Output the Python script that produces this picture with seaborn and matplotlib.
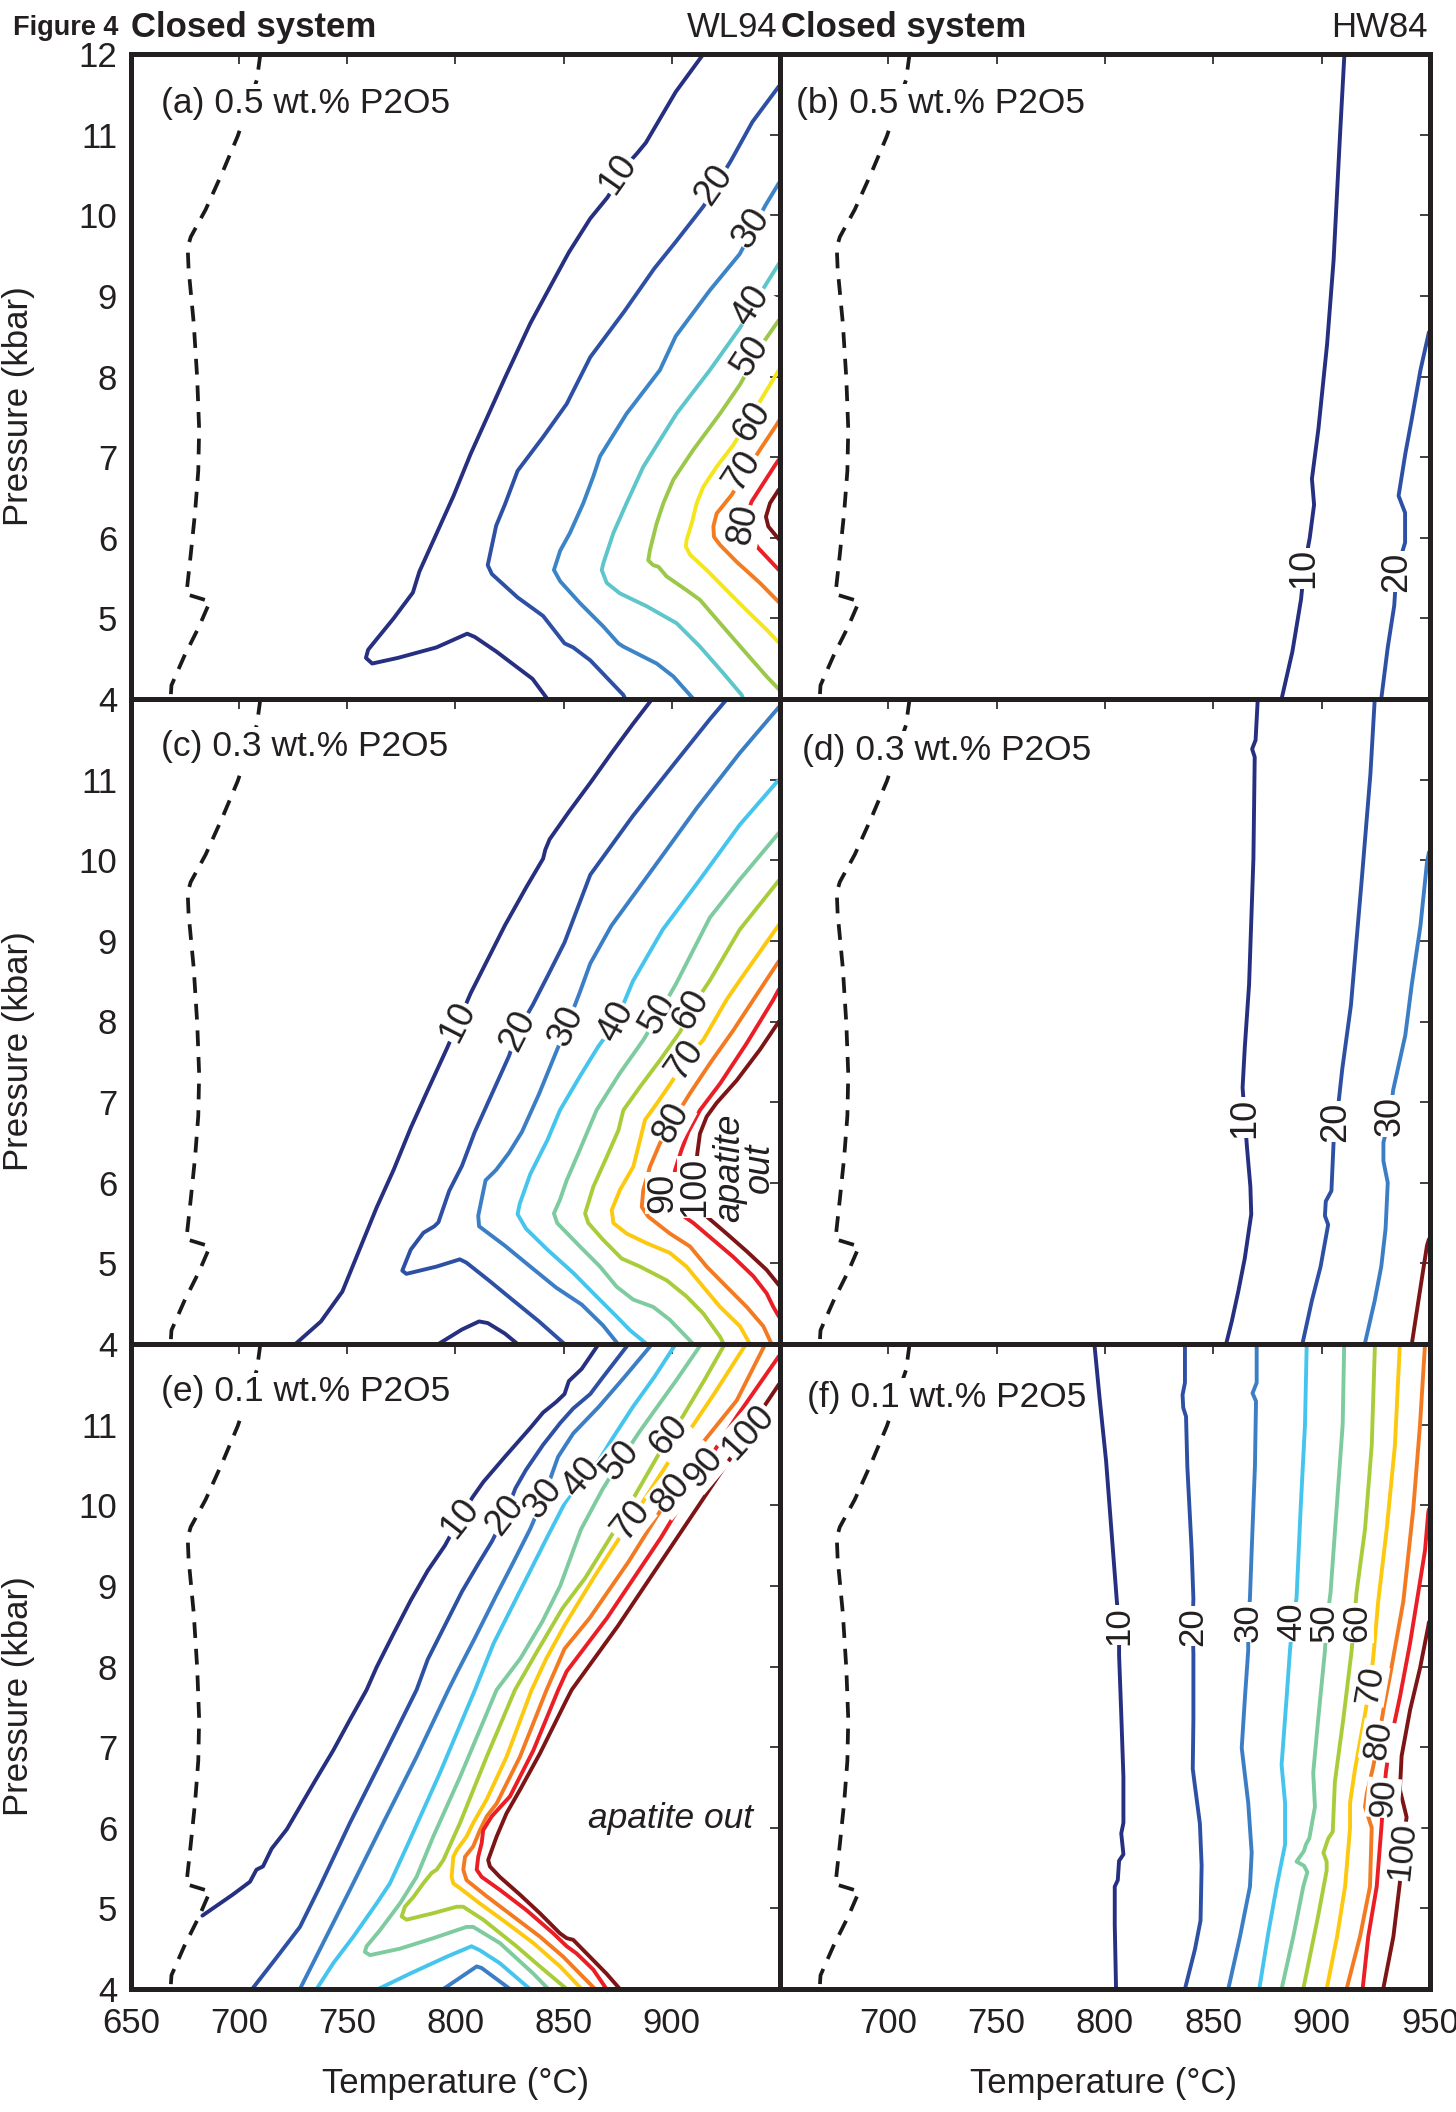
import numpy as np
import pandas as pd
import matplotlib
matplotlib.use("Agg")
import matplotlib.pyplot as plt
import seaborn as sns

# ---------------- data ----------------
# dashed line (same in every panel): (T degC, P kbar)
SOLIDUS = [(709.8, 12.0), (708.2, 11.68), (699.3, 10.98), (692.4, 10.54), (684.5, 10.07),
           (677.6, 9.73), (676.2, 9.60), (676.6, 9.34), (679.0, 8.66), (680.6, 7.98),
           (681.5, 7.35), (681.1, 6.83), (679.6, 6.31), (677.6, 5.79), (675.6, 5.30),
           (686.5, 5.21), (681.5, 4.90), (674.6, 4.53), (668.7, 4.17), (668.3, 4.0)]

# ---- panel (a) WL94 0.5 wt.% ----
A10 = [(914.6, 12.0), (901.8, 11.53), (888.0, 10.90), (884.0, 10.77), (881.0, 10.68), (870.2, 10.22),
       (862.3, 9.96), (852.4, 9.54), (845.5, 9.20), (834.6, 8.66), (822.8, 7.98), (814.9, 7.51),
       (807.0, 7.04), (799.1, 6.52), (791.2, 6.05), (783.3, 5.58), (780.3, 5.32), (771.4, 5.00),
       (763.5, 4.74), (759.6, 4.61), (758.6, 4.51), (761.5, 4.44), (773.4, 4.51), (791.2, 4.64),
       (805.4, 4.81), (808.9, 4.77), (818.8, 4.59), (826.7, 4.43), (835.6, 4.25), (842.5, 4.0)]
A20 = [(949.5, 11.6), (937.3, 11.16), (927.4, 10.68), (914.6, 10.11), (901.8, 9.67), (891.9, 9.34),
       (878.1, 8.81), (862.3, 8.24), (851.4, 7.66), (840.5, 7.25), (828.7, 6.83), (822.8, 6.41),
       (818.8, 6.15), (814.9, 5.66), (816.8, 5.55), (828.7, 5.26), (840.5, 5.03), (850.4, 4.69),
       (854.4, 4.64), (862.3, 4.48), (877.6, 4.05), (878.5, 4.0)]
A30 = [(949.5, 10.4), (943.2, 10.12), (931.4, 9.52), (917.6, 9.07), (901.8, 8.50), (894.5, 8.08),
       (879.1, 7.54), (866.8, 7.01), (863.7, 6.76), (859.1, 6.43), (852.9, 6.06), (848.4, 5.84),
       (845.5, 5.60), (848.4, 5.46), (857.5, 5.19), (868.3, 4.90), (875.3, 4.69), (877.6, 4.65),
       (893.0, 4.44), (900.7, 4.28), (910.0, 4.0)]
A40 = [(949.5, 9.4), (943.2, 9.13), (931.4, 8.60), (917.6, 8.08), (902.2, 7.54), (886.8, 6.88),
       (879.1, 6.43), (873.0, 6.06), (868.3, 5.68), (867.6, 5.60), (869.9, 5.44), (876.0, 5.31),
       (888.4, 5.15), (902.2, 4.94), (913.0, 4.65), (923.8, 4.32), (932.3, 4.05), (933.0, 4.0)]
A50 = [(949.5, 8.70), (943.0, 8.45), (931.5, 7.90), (922.3, 7.54), (909.9, 7.09), (900.7, 6.72),
       (896.1, 6.43), (893.0, 6.18), (889.9, 5.85), (889.1, 5.72), (891.4, 5.66), (893.8, 5.64),
       (897.6, 5.52), (906.8, 5.35), (913.0, 5.23), (922.3, 4.94), (933.0, 4.61), (943.8, 4.28),
       (949.5, 4.12)]
A60 = [(949.5, 8.08), (947.7, 8.0), (940.7, 7.69), (928.4, 7.15), (920.7, 6.88), (914.5, 6.63),
       (911.5, 6.43), (909.2, 6.18), (906.8, 5.97), (906.5, 5.89), (908.4, 5.79), (916.1, 5.60),
       (925.3, 5.35), (934.6, 5.10), (943.8, 4.86), (949.5, 4.70)]
A70 = [(949.5, 7.45), (948.4, 7.40), (940.7, 7.09), (927.6, 6.53), (920.7, 6.30), (919.2, 6.14),
       (919.5, 6.01), (922.3, 5.91), (930.0, 5.70), (940.7, 5.44), (949.5, 5.20)]
A80 = [(949.5, 6.97), (947.7, 6.90), (936.9, 6.45), (933.0, 6.16), (940.0, 5.87), (949.5, 5.60)]
A90 = [(949.5, 6.60), (945.4, 6.43), (943.5, 6.26), (944.6, 6.14), (949.5, 5.98)]
A_LABELS = [("10", 875.1, 10.51), ("20", 919.5, 10.38), ("30", 936.9, 9.84), ("40", 936.8, 8.88),
            ("50", 936.5, 8.25), ("60", 936.9, 7.43), ("70", 932.4, 6.83), ("80", 933.0, 6.16)]

# ---- panel (b) HW84 0.5 wt.% ----
B10 = [(910.5, 12.0), (908.5, 11.01), (905.5, 9.44), (902.5, 8.40), (898.5, 7.35), (895.5, 6.73),
       (896.5, 6.41), (894.5, 6.0), (891.9, 5.62), (890.5, 5.24), (886.5, 4.59), (881.5, 4.0)]
B20 = [(949.5, 8.55), (945.6, 8.08), (941.5, 7.46), (938.6, 7.04), (935.5, 6.52), (938.5, 6.31),
       (938.5, 5.94), (934.5, 5.58), (933.5, 5.16), (930.5, 4.64), (927.5, 4.0)]
B_LABELS = [("10", 891.9, 5.62), ("20", 934.5, 5.58)]

# ---- panel (c) WL94 0.3 wt.% ----
C10 = [(890.9, 12.0), (882.0, 11.69), (872.1, 11.33), (862.3, 10.96), (852.4, 10.60), (843.5, 10.26),
       (841.5, 10.13), (840.5, 10.02), (832.6, 9.66), (822.8, 9.19), (814.9, 8.77), (807.0, 8.35),
       (796.1, 7.67), (787.2, 7.15), (779.3, 6.68), (771.4, 6.16), (763.5, 5.69), (755.6, 5.17),
       (747.7, 4.65), (737.8, 4.28), (726.0, 4.0)]
C10_TENT = [(792.1, 4.0), (803.0, 4.18), (810.9, 4.28), (814.9, 4.26), (822.8, 4.13), (828.7, 4.0)]
C20 = [(925.5, 12.0), (917.6, 11.75), (901.8, 11.22), (882.0, 10.55), (862.3, 9.82), (850.4, 8.98),
       (842.5, 8.56), (835.6, 8.2), (828.7, 7.88), (824.7, 7.57), (816.8, 7.10), (808.9, 6.63),
       (803.0, 6.21), (797.1, 5.90), (792.1, 5.51), (790.2, 5.46), (785.2, 5.38), (779.3, 5.17),
       (775.4, 4.91), (777.3, 4.87), (791.2, 4.96), (802.0, 5.05), (805.0, 5.01), (814.9, 4.80),
       (826.7, 4.54), (838.6, 4.28), (850.4, 4.0)]
C30 = [(949.5, 11.9), (931.4, 11.33), (911.6, 10.65), (891.9, 9.92), (872.1, 9.19), (862.3, 8.72),
       (857.3, 8.35), (851.4, 7.94), (846.5, 7.62), (838.6, 7.10), (830.7, 6.63), (824.7, 6.37),
       (818.8, 6.16), (813.9, 6.03), (812.5, 5.85), (810.5, 5.59), (810.9, 5.46), (822.8, 5.22),
       (834.6, 4.96), (846.5, 4.70), (858.3, 4.49), (868.2, 4.23), (875.1, 4.0)]
C40 = [(949.5, 11.0), (931.4, 10.44), (911.6, 9.71), (895.8, 9.14), (882.0, 8.5), (874.1, 7.99),
       (866.0, 7.69), (857.5, 7.32), (848.3, 6.90), (842.5, 6.53), (834.6, 6.11), (829.7, 5.74),
       (828.7, 5.61), (832.6, 5.43), (842.5, 5.17), (854.5, 4.88), (863.7, 4.63), (874.5, 4.34),
       (880.7, 4.17), (888.4, 4.0)]
C50 = [(949.5, 10.34), (931.4, 9.76), (917.6, 9.29), (901.8, 8.46), (893.9, 8.09), (886.8, 7.77),
       (876.0, 7.36), (865.2, 6.90), (857.5, 6.41), (851.4, 6.03), (848.3, 5.79), (845.5, 5.62),
       (847.0, 5.50), (857.5, 5.21), (866.8, 4.96), (874.5, 4.71), (882.2, 4.55), (891.4, 4.46),
       (899.1, 4.30), (909.9, 4.0)]
C60 = [(949.5, 9.75), (931.4, 9.14), (917.6, 8.51), (908.7, 8.15), (903.8, 7.87), (894.5, 7.52),
       (885.3, 7.19), (877.6, 6.90), (875.3, 6.65), (869.9, 6.32), (863.7, 5.95), (859.9, 5.62),
       (861.4, 5.50), (868.3, 5.29), (876.8, 5.06), (885.3, 4.96), (897.6, 4.79), (906.8, 4.59),
       (914.5, 4.38), (922.3, 4.09), (924.0, 4.0)]
C70 = [(949.5, 9.2), (931.4, 8.51), (925.3, 8.27), (914.5, 7.77), (906.1, 7.52), (899.9, 7.25),
       (893.0, 6.98), (887.6, 6.78), (885.3, 6.53), (882.2, 6.20), (876.0, 5.91), (872.2, 5.66),
       (873.0, 5.50), (879.1, 5.37), (888.4, 5.25), (899.1, 5.13), (906.8, 4.96), (914.5, 4.71),
       (922.3, 4.46), (931.5, 4.22), (936.1, 4.0)]
C80 = [(949.5, 8.75), (937.7, 8.27), (928.4, 7.89), (917.6, 7.48), (908.4, 7.11), (899.9, 6.74),
       (894.5, 6.49), (889.9, 6.20), (886.8, 5.91), (886.1, 5.70), (889.1, 5.58), (899.1, 5.37),
       (908.4, 5.21), (916.1, 4.96), (925.3, 4.71), (934.6, 4.46), (942.3, 4.22), (946.1, 4.0)]
C90 = [(949.5, 8.40), (946.9, 8.27), (934.6, 7.73), (922.3, 7.23), (913.0, 6.90), (907.6, 6.63),
       (904.5, 6.41), (901.5, 6.16), (900.0, 5.88), (901.5, 5.66), (910.0, 5.50), (919.2, 5.29),
       (928.4, 5.08), (937.7, 4.84), (943.8, 4.63), (946.9, 4.46), (949.5, 4.34)]
C100 = [(949.5, 8.0), (940.7, 7.65), (930.0, 7.27), (920.7, 6.99), (916.1, 6.82), (913.0, 6.61),
        (911.8, 6.37), (910.5, 5.95), (915.3, 5.60), (925.3, 5.37), (934.6, 5.15), (943.8, 4.92),
        (949.5, 4.73)]
C_LABELS = [("10", 801.0, 7.99), ("20", 828.7, 7.88), ("30", 851.4, 7.94), ("40", 874.1, 7.99),
            ("50", 893.9, 8.09), ("60", 908.7, 8.15), ("70", 906.1, 7.52), ("80", 899.9, 6.74),
            ("90", 896.0, 5.87), ("100", 910.6, 5.95)]

# ---- panel (d) HW84 0.3 wt.% ----
D10 = [(870.5, 12.0), (869.5, 11.49), (867.9, 11.38), (869.1, 11.28), (868.5, 10.02), (866.5, 8.46),
       (864.5, 7.67), (863.5, 7.18), (864.5, 6.81), (865.5, 6.45), (867.1, 5.95), (867.5, 5.61),
       (864.5, 5.06), (861.5, 4.65), (858.5, 4.28), (855.9, 4.0)]
D20 = [(924.5, 12.0), (922.5, 11.07), (918.5, 9.76), (913.5, 8.20), (909.5, 7.41), (907.9, 7.02),
       (906.5, 6.76), (905.5, 6.50), (904.5, 5.90), (901.9, 5.77), (901.5, 5.59), (903.0, 5.48),
       (899.5, 4.96), (895.5, 4.54), (891.1, 4.0)]
D30 = [(949.5, 10.1), (948.6, 9.97), (945.6, 9.19), (941.6, 8.46), (938.6, 7.83), (933.0, 7.15),
       (931.6, 6.83), (928.5, 6.50), (928.5, 6.27), (930.5, 6.0), (929.5, 5.43), (927.5, 4.96),
       (924.5, 4.54), (919.9, 4.0)]
D100 = [(949.5, 5.3), (948.6, 5.22), (945.6, 4.70), (941.6, 4.0)]
D_LABELS = [("10", 864.5, 6.81), ("20", 906.5, 6.76), ("30", 931.6, 6.83)]

# ---- panel (e) WL94 0.1 wt.% ----
E10 = [(866.2, 12.0), (858.3, 11.69), (852.4, 11.54), (850.4, 11.38), (846.5, 11.28), (840.5, 11.15),
       (834.6, 10.96), (822.8, 10.60), (812.9, 10.29), (807.9, 10.10), (802.0, 9.84), (795.1, 9.50),
       (787.2, 9.19), (779.3, 8.82), (771.4, 8.41), (763.5, 7.99), (758.9, 7.71), (751.0, 7.33),
       (743.5, 6.96), (735.5, 6.60), (728.1, 6.26), (722.0, 5.98), (715.0, 5.74), (711.0, 5.52),
       (708.0, 5.48), (705.0, 5.33), (697.0, 5.17), (683.0, 4.91)]
E20 = [(880.0, 12.0), (868.2, 11.59), (862.3, 11.38), (854.4, 11.20), (848.4, 11.02), (840.5, 10.75),
       (832.6, 10.44), (827.7, 10.21), (822.8, 9.87), (816.8, 9.55), (810.9, 9.29), (803.0, 8.93),
       (795.1, 8.51), (787.2, 8.09), (782.0, 7.71), (766.6, 6.88), (751.2, 6.06), (737.3, 5.27),
       (728.1, 4.77), (717.0, 4.38), (706.0, 4.0)]
E30 = [(890.9, 12.0), (878.1, 11.59), (866.2, 11.22), (854.4, 10.89), (847.4, 10.60), (840.5, 10.08),
       (834.6, 9.71), (826.7, 9.29), (818.8, 8.88), (808.9, 8.35), (801.0, 7.94), (796.7, 7.71),
       (782.0, 6.88), (766.6, 6.06), (751.2, 5.23), (737.3, 4.49), (728.1, 4.0)]
E30_TENT = [(794.4, 4.0), (809.8, 4.28), (812.1, 4.26), (825.2, 4.0)]
E40 = [(901.8, 12.0), (891.9, 11.59), (882.0, 11.22), (872.1, 10.81), (866.2, 10.55), (858.3, 10.34),
       (850.4, 10.02), (842.5, 9.61), (834.6, 9.19), (826.7, 8.77), (817.5, 8.28), (809.0, 7.71),
       (792.8, 6.68), (778.9, 5.85), (769.7, 5.31), (763.5, 5.06), (752.8, 4.65), (743.5, 4.32),
       (735.8, 4.0)]
E40_TENT = [(764.3, 4.0), (778.9, 4.19), (795.9, 4.40), (807.4, 4.53), (811.3, 4.48), (820.5, 4.32),
            (834.4, 4.0)]
E50 = [(913.6, 12.0), (901.8, 11.54), (891.9, 11.17), (885.0, 10.91), (876.1, 10.55), (868.0, 10.2),
       (858.0, 9.7), (848.4, 9.0), (840.0, 8.55), (830.0, 8.1), (819.0, 7.71), (802.1, 6.63),
       (789.7, 5.89), (782.0, 5.39), (774.3, 5.06), (765.1, 4.73), (758.9, 4.53), (758.1, 4.46),
       (760.5, 4.42), (774.3, 4.50), (789.7, 4.63), (805.1, 4.77), (808.2, 4.77), (820.5, 4.57),
       (836.0, 4.19), (842.9, 4.0)]
E60 = [(924.5, 12.0), (915.0, 11.55), (905.0, 11.1), (898.8, 10.86), (890.0, 10.45), (875.0, 9.75),
       (860.0, 9.1), (849.4, 8.72), (838.0, 8.2), (827.5, 7.71), (814.4, 6.88), (802.1, 6.06),
       (794.4, 5.60), (791.3, 5.48), (789.0, 5.44), (785.1, 5.31), (780.5, 5.14), (776.6, 5.02),
       (775.1, 4.90), (777.4, 4.86), (789.7, 4.94), (800.5, 5.02), (803.6, 5.02), (812.8, 4.86),
       (828.2, 4.53), (839.0, 4.28), (851.4, 4.0)]
E70 = [(934.3, 12.0), (920.0, 11.4), (900.0, 10.6), (881.0, 9.81), (865.0, 9.15), (850.4, 8.51),
       (842.0, 8.1), (835.2, 7.71), (823.6, 6.88), (814.4, 6.35), (808.2, 6.06), (805.1, 5.89),
       (800.5, 5.72), (799.0, 5.64), (798.2, 5.39), (799.0, 5.31), (802.1, 5.25), (811.3, 5.06),
       (823.6, 4.82), (836.0, 4.57), (848.3, 4.28), (858.3, 4.0)]
E80 = [(943.2, 12.0), (930.0, 11.3), (915.0, 10.8), (899.8, 10.15), (880.0, 9.3), (862.0, 8.6),
       (850.4, 8.22), (842.1, 7.71), (829.8, 6.88), (819.0, 6.30), (814.4, 6.14), (811.3, 5.97),
       (808.2, 5.77), (804.4, 5.64), (803.6, 5.48), (805.1, 5.35), (814.4, 5.15), (826.7, 4.90),
       (839.0, 4.65), (849.8, 4.40), (857.5, 4.19), (864.5, 4.0)]
E90 = [(949.5, 11.85), (930.0, 11.1), (914.6, 10.47), (895.0, 9.6), (870.0, 8.6), (851.4, 7.94),
       (847.5, 7.71), (836.0, 6.96), (825.2, 6.39), (816.7, 6.14), (812.8, 5.97), (812.1, 5.81),
       (810.5, 5.64), (809.8, 5.48), (812.1, 5.39), (820.5, 5.23), (832.7, 4.98), (845.2, 4.69),
       (851.4, 4.53), (856.0, 4.44), (863.7, 4.24), (869.8, 4.0)]
E100 = [(949.5, 11.5), (942.0, 11.2), (935.3, 10.91), (925.0, 10.5), (900.0, 9.5), (875.0, 8.5),
        (853.7, 7.71), (851.4, 7.59), (839.0, 6.92), (829.8, 6.47), (823.6, 6.18), (819.0, 5.89),
        (815.1, 5.60), (815.9, 5.52), (820.5, 5.39), (829.8, 5.17), (839.0, 4.94), (848.3, 4.69),
        (851.4, 4.63), (854.4, 4.61), (862.1, 4.40), (869.8, 4.19), (876.0, 4.0)]
E_LABELS = [("10", 802.0, 9.84), ("20", 822.8, 9.87), ("30", 840.5, 10.08), ("40", 858.3, 10.34),
            ("50", 876.1, 10.55), ("60", 898.8, 10.86), ("70", 881.0, 9.81), ("80", 899.8, 10.15),
            ("90", 914.6, 10.47), ("100", 935.3, 10.91)]

# ---- panel (f) HW84 0.1 wt.% ----
F10 = [(795.1, 12.0), (797.5, 11.33), (800.5, 10.55), (803.5, 9.50), (805.5, 8.80), (806.5, 8.51),
       (806.5, 8.14), (807.5, 7.41), (808.5, 6.63), (808.5, 6.06), (807.5, 5.93), (808.5, 5.67),
       (806.5, 5.59), (805.9, 5.35), (804.5, 5.27), (804.5, 4.80), (805.1, 4.0)]
F20 = [(836.9, 12.0), (836.9, 11.52), (835.8, 11.37), (836.1, 11.21), (837.4, 11.10), (838.0, 10.48),
       (840.0, 9.44), (840.8, 8.84), (840.4, 8.50), (840.8, 8.16), (840.8, 7.35), (840.5, 6.73),
       (841.5, 6.52), (843.8, 6.05), (844.6, 5.53), (844.1, 4.85), (841.5, 4.49), (840.0, 4.33),
       (836.9, 4.0)]
F30 = [(870.0, 12.0), (870.0, 11.52), (868.1, 11.39), (869.7, 11.29), (869.2, 10.48), (867.7, 9.44),
       (866.9, 8.85), (866.1, 8.55), (866.1, 8.2), (864.6, 7.62), (863.1, 6.99), (863.8, 6.83),
       (866.1, 6.31), (867.7, 5.69), (866.9, 5.27), (862.3, 4.65), (856.9, 4.0)]
F40 = [(893.1, 12.0), (892.3, 11.0), (890.3, 9.96), (888.4, 8.85), (886.6, 8.55), (885.4, 8.21),
       (883.8, 7.61), (881.5, 6.78), (883.1, 6.31), (883.1, 5.79), (879.2, 5.27), (875.4, 4.70),
       (871.2, 4.0)]
F50 = [(910.4, 12.0), (909.7, 11.0), (906.9, 9.96), (904.1, 8.92), (902.3, 8.54), (901.5, 8.19),
       (898.4, 7.35), (896.1, 6.68), (896.9, 6.26), (894.3, 5.87), (892.7, 5.79), (891.8, 5.71),
       (888.4, 5.58), (891.8, 5.53), (893.4, 5.45), (891.5, 5.27), (886.9, 4.65), (881.5, 4.0)]
F60 = [(924.6, 12.0), (923.1, 10.74), (920.0, 9.70), (916.1, 8.92), (914.9, 8.54), (913.8, 8.19),
       (910.0, 7.35), (906.1, 6.57), (905.1, 5.95), (903.1, 5.87), (900.8, 5.69), (902.3, 5.58),
       (902.3, 5.47), (898.4, 4.91), (891.5, 4.0)]
F70 = [(936.1, 12.0), (933.8, 10.74), (930.0, 9.70), (926.1, 8.81), (923.8, 8.11), (922.3, 7.77),
       (920.0, 7.41), (915.4, 6.73), (913.1, 6.31), (913.1, 6.0), (910.8, 5.27), (907.1, 4.65),
       (902.3, 4.0)]
F80 = [(947.7, 12.0), (945.4, 11.0), (942.3, 9.96), (937.7, 8.81), (931.5, 7.88), (928.8, 7.51),
       (926.1, 7.08), (923.8, 6.76), (920.8, 6.42), (920.0, 6.26), (923.1, 6.0), (922.3, 5.27),
       (917.7, 4.65), (911.5, 4.0)]
F90 = [(949.5, 9.95), (949.2, 9.91), (947.7, 9.44), (944.6, 8.92), (940.8, 8.29), (936.1, 7.62),
       (931.5, 7.04), (929.7, 6.70), (928.5, 6.37), (927.7, 6.05), (925.4, 5.27), (921.5, 4.65),
       (918.9, 4.0)]
F100 = [(949.5, 8.55), (949.2, 8.50), (945.4, 7.98), (940.8, 7.46), (936.9, 6.89), (936.1, 6.47),
        (938.5, 6.21), (939.2, 6.13), (936.9, 5.71), (936.1, 5.32), (933.1, 4.65), (928.4, 4.0)]
F_LABELS = [("10", 806.5, 8.51), ("20", 840.4, 8.50), ("30", 866.1, 8.55), ("40", 886.2, 8.55),
            ("50", 901.2, 8.54), ("60", 916.0, 8.54), ("70", 922.3, 7.77), ("80", 926.1, 7.08),
            ("90", 928.5, 6.37), ("100", 936.9, 5.71)]

PANEL_TITLES = ["(a) 0.5 wt.% P2O5", "(b) 0.5 wt.% P2O5", "(c) 0.3 wt.% P2O5",
                "(d) 0.3 wt.% P2O5", "(e) 0.1 wt.% P2O5", "(f) 0.1 wt.% P2O5"]
X_TICKS = [650, 700, 750, 800, 850, 900, 950]
Y_TICKS = [4, 5, 6, 7, 8, 9, 10, 11, 12]

# ---------------- styles ----------------
PAL_A = {10: "#262f80", 20: "#2e50a4", 30: "#3c84c8", 40: "#5cc6cb", 50: "#9cc84a",
         60: "#f4e51c", 70: "#f47c20", 80: "#ea1f27", 90: "#7c1416"}
PAL = {10: "#262f80", 20: "#2e50a4", 30: "#3b7ec6", 40: "#45c5ee", 50: "#7ecb9f",
       60: "#a9cd3a", 70: "#fcc90f", 80: "#f47a22", 90: "#eb1d25", 100: "#7d1416"}
INK = "#231f20"
LW = 2.8
LABEL_FS = 26
TITLE_POS = [(0.0456, 0.9085), (0.0246, 0.9085), (0.0456, 0.912),
             (0.0346, 0.906), (0.0456, 0.911), (0.0414, 0.903)]

sns.set_theme(style="white")
plt.rcParams["font.family"] = ["Liberation Sans", "DejaVu Sans"]

W, H = 1456, 2112
fig = plt.figure(figsize=(W / 100, H / 100), dpi=100)

col_x = [(131, 649), (780, 650)]
row_top = [54, 699, 1344]
ph = 645


def axes_at(col, row):
    x0, w = col_x[col]
    y1 = row_top[row]
    return fig.add_axes([x0 / W, 1 - (y1 + ph) / H, w / W, ph / H])


def draw_panel(ax, lines, pal, labels, rots, idx, row, col, label_fs=LABEL_FS):
    rows = []
    for seg, (lev, pts) in enumerate(lines):
        for t, p in pts:
            rows.append({"T": t, "P": p, "level": str(lev), "seg": seg})
    df = pd.DataFrame(rows)
    sns.lineplot(data=df, x="T", y="P", hue="level", units="seg", estimator=None, sort=False,
                 palette={str(k): v for k, v in pal.items()}, legend=False, linewidth=LW,
                 ax=ax, zorder=2)
    sol = pd.DataFrame(SOLIDUS, columns=["T", "P"])
    sns.lineplot(data=sol, x="T", y="P", sort=False, estimator=None, color="#1a1a1a",
                 linewidth=2.7, linestyle=(0, (4.2, 2.9)), ax=ax, zorder=2)
    for (s, t, p), r in zip(labels, rots):
        ax.text(t, p, s, rotation=r, rotation_mode="anchor", ha="center", va="center",
                fontsize=label_fs, color=INK, zorder=4,
                bbox=dict(facecolor="white", edgecolor="none", pad=0.4))
    tx, ty = TITLE_POS[idx]
    ax.text(tx, ty, PANEL_TITLES[idx], transform=ax.transAxes, fontsize=25.5, color=INK,
            ha="left", va="baseline", zorder=5,
            bbox=dict(facecolor="white", edgecolor="none", pad=2.0))

    ax.set_xlim(650, 950)
    ax.set_ylim(4, 12)
    ax.set_xticks(X_TICKS)
    ax.set_yticks(Y_TICKS)
    ax.set_xlabel("")
    ax.set_ylabel("")
    ax.grid(False)
    ax.tick_params(axis="both", which="major", direction="in", length=7, width=1.2,
                   colors=INK, top=True, right=True, labelsize=25)
    ax.tick_params(axis="x", pad=13)
    ax.tick_params(axis="y", pad=10)
    for sp in ax.spines.values():
        sp.set_visible(True)
        sp.set_linewidth(3.6)
        sp.set_color(INK)
        sp.set_zorder(6)
    if col == 0:
        ylabs = [str(v) for v in Y_TICKS]
        if row > 0:
            ylabs[-1] = ""
        ax.set_yticklabels(ylabs)
    else:
        ax.tick_params(axis="y", labelleft=False)
    if row == 2:
        xl = [str(v) for v in X_TICKS]
        if col == 0:
            xl[-1] = ""
        else:
            xl[0] = ""
        ax.set_xticklabels(xl)
    else:
        ax.tick_params(axis="x", labelbottom=False)


ax_a = axes_at(0, 0)
draw_panel(ax_a, [(10, A10), (20, A20), (30, A30), (40, A40), (50, A50), (60, A60), (70, A70),
                  (80, A80), (90, A90)], PAL_A, A_LABELS, [55, 55, 57, 57, 57, 57, 57, 78],
           0, 0, 0)

ax_b = axes_at(1, 0)
draw_panel(ax_b, [(10, B10), (20, B20)], PAL, B_LABELS, [90, 90], 1, 0, 1)

ax_c = axes_at(0, 1)
draw_panel(ax_c, [(10, C10), (10, C10_TENT), (20, C20), (30, C30), (40, C40), (50, C50),
                  (60, C60), (70, C70), (80, C80), (90, C90), (100, C100)], PAL, C_LABELS,
           [63, 63, 65, 62, 60, 60, 55, 62, 90, 90], 2, 1, 0)
ax_c.text(933.5, 6.18, "apatite\nout", rotation=90, ha="center", va="center", fontsize=26,
          style="italic", color=INK, linespacing=0.8, multialignment="center", zorder=4)

ax_d = axes_at(1, 1)
draw_panel(ax_d, [(10, D10), (20, D20), (30, D30), (100, D100)], PAL, D_LABELS, [90, 90, 90],
           3, 1, 1)

ax_e = axes_at(0, 2)
draw_panel(ax_e, [(10, E10), (20, E20), (30, E30), (30, E30_TENT), (40, E40), (40, E40_TENT),
                  (50, E50), (60, E60), (70, E70), (80, E80), (90, E90), (100, E100)], PAL,
           E_LABELS, [52, 52, 52, 50, 50, 50, 52, 50, 50, 48], 4, 2, 0)
ax_e.text(899.5, 6.11, "apatite out", ha="center", va="center", fontsize=25.5, style="italic",
          color=INK, zorder=4)

ax_f = axes_at(1, 2)
draw_panel(ax_f, [(10, F10), (20, F20), (30, F30), (40, F40), (50, F50), (60, F60), (70, F70),
                  (80, F80), (90, F90), (100, F100)], PAL, F_LABELS,
           [90, 90, 90, 90, 90, 90, 80, 80, 85, 84], 5, 2, 1, label_fs=25)

# ---------------- figure texts ----------------
fig.text(13 / W, 1 - 35 / H, "Figure 4", fontsize=19.5, weight="bold", color=INK, va="baseline",
         family=["Liberation Sans Narrow", "Liberation Sans", "DejaVu Sans"])
fig.text(131 / W, 1 - 37 / H, "Closed system", fontsize=25, weight="bold", color=INK,
         va="baseline")
fig.text(781 / W, 1 - 37 / H, "Closed system", fontsize=25, weight="bold", color=INK,
         va="baseline")
fig.text(777 / W, 1 - 37 / H, "WL94", fontsize=25, color=INK, va="baseline", ha="right")
fig.text(1428 / W, 1 - 37 / H, "HW84", fontsize=25, color=INK, va="baseline", ha="right")

for r in range(3):
    yc = row_top[r] + ph / 2 + 30
    fig.text(19 / W, 1 - yc / H, "Pressure (kbar)", rotation=90, ha="center", va="center",
             fontsize=25, color=INK)
for xc in (455, 1104):
    fig.text(xc / W, 1 - 2084 / H, "Temperature (°C)", ha="center", va="center", fontsize=25,
             color=INK)

fig.savefig("out.png", dpi=100, facecolor="white")
